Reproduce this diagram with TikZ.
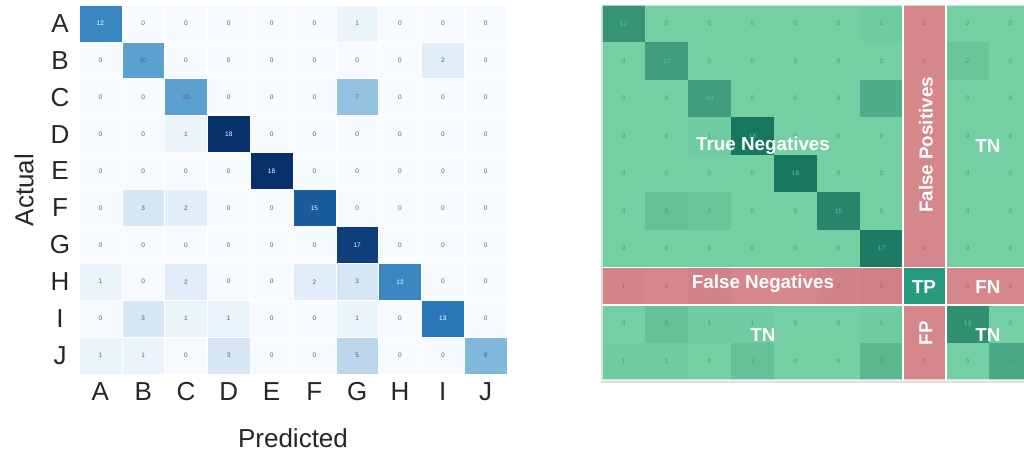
\documentclass[tikz,border=0pt]{standalone}
\usepackage{fontspec}
\setmainfont{Liberation Sans}
\usetikzlibrary{shadows}

\definecolor{bluelow}{RGB}{247,251,255}
\definecolor{blueqa}{RGB}{198,219,239}
\definecolor{bluemid}{RGB}{107,174,214}
\definecolor{blueqc}{RGB}{33,113,181}
\definecolor{bluehigh}{RGB}{8,48,107}
\definecolor{numgray}{RGB}{95,95,95}
\definecolor{mint}{RGB}{116,207,163}
\definecolor{deepteal}{RGB}{22,118,94}
\definecolor{mintnum}{RGB}{66,154,116}
\definecolor{rose}{RGB}{214,135,139}
\definecolor{deeprose}{RGB}{170,95,100}
\definecolor{rosenum}{RGB}{172,98,102}
\definecolor{tpteal}{RGB}{38,155,128}
\definecolor{tpedge}{RGB}{28,128,104}

\newcommand{\heatcolor}[1]{%
 \ifnum#1<5 \pgfmathtruncatemacro\hpct{#1/4.5*100}\colorlet{cellc}{blueqa!\hpct!bluelow}%
 \else\ifnum#1<10 \pgfmathtruncatemacro\hpct{(#1-4.5)/4.5*100}\colorlet{cellc}{bluemid!\hpct!blueqa}%
 \else\ifnum#1<14 \pgfmathtruncatemacro\hpct{(#1-9)/4.5*100}\colorlet{cellc}{blueqc!\hpct!bluemid}%
 \else \pgfmathtruncatemacro\hpct{(#1-13.5)/4.5*100}\colorlet{cellc}{bluehigh!\hpct!blueqc}\fi\fi\fi}

\def\confrows{{12,0,0,0,0,0,1,0,0,0},{0,10,0,0,0,0,0,0,2,0},{0,0,10,0,0,0,7,0,0,0},%
{0,0,1,18,0,0,0,0,0,0},{0,0,0,0,18,0,0,0,0,0},{0,3,2,0,0,15,0,0,0,0},%
{0,0,0,0,0,0,17,0,0,0},{1,0,2,0,0,2,3,12,0,0},{0,3,1,1,0,0,1,0,13,0},%
{1,1,0,3,0,0,5,0,0,8}}

\tikzset{
 lcell/.style={rectangle,minimum width=42.8pt,minimum height=36.9pt,inner sep=0pt,
   draw=white,line width=0.6pt,font=\fontsize{6.5}{7}\selectfont},
 rcell/.style={rectangle,minimum width=43pt,minimum height=37.5pt,inner sep=0pt,
   font=\fontsize{6.5}{7}\selectfont},
 axlabel/.style={text=black!85,font=\fontsize{26}{28}\selectfont},
 bigtag/.style={text=white,font=\bfseries\fontsize{18.8}{20}\selectfont},
 sepline/.style={white,line width=1.6pt}
}

\begin{document}
\begin{tikzpicture}[x=1pt,y=-1pt]
\useasboundingbox (0,0) rectangle (1024,454);

\foreach \rowvals [count=\r] in \confrows {
  \foreach \v [count=\c] in \rowvals {
    \heatcolor{\v}
    \ifnum\v>10 \def\numc{white}\else\def\numc{numgray}\fi
    \node[lcell,fill=cellc,text=\numc] (L-\r-\c) at ({79+(\c-0.5)*42.8},{5+(\r-0.5)*36.9}) {\v};
  }
}
\foreach \lab [count=\i] in {A,...,J} {
  \node[axlabel] (row-\lab) at (60,{5+(\i-0.5)*36.9}) {\lab};
  \node[axlabel] (col-\lab) at ({79+(\i-0.5)*42.8},392) {\lab};
}
\node[axlabel,rotate=90] (actual) at (24,190) {Actual};
\node[axlabel] (predicted) at (293,438) {Predicted};

\fill[mint,drop shadow={opacity=0.25,shadow xshift=-1pt,shadow yshift=-2.5pt}] (602,5) rectangle (1030,380);
\begin{scope}
\clip (602,5) rectangle (1024,380);
\foreach \rowvals [count=\r] in \confrows {
  \foreach \v [count=\c] in \rowvals {
    \pgfmathtruncatemacro\gp{\v/18*100}
    \def\numc{mintnum}\colorlet{cellc}{deepteal!\gp!mint}
    \ifnum\v>9 \def\numc{mint!85!deepteal}\fi
    \ifnum\r=8 \def\numc{rosenum}\colorlet{cellc}{deeprose!\gp!rose}\fi
    \ifnum\c=8 \def\numc{rosenum}\colorlet{cellc}{deeprose!\gp!rose}\fi
    \node[rcell,fill=cellc,text=\numc] (R-\r-\c) at ({602+(\c-0.5)*43},{5+(\r-0.5)*37.5}) {\v};
  }
}
\node[rcell,fill=tpteal,draw=tpedge,line width=1.2pt,text=tpedge] (tp-cell) at (R-8-8) {12};
\draw[sepline] (903,5) -- (903,380);
\draw[sepline] (946,5) -- (946,380);
\draw[sepline] (602,267.5) -- (1030,267.5);
\draw[sepline] (602,305) -- (1030,305);
\draw[white,opacity=0.6,line width=1.5pt] (602,5) rectangle (1030,380);
\end{scope}

\node[bigtag] (tn-main) at (763,146) {True Negatives};
\node[bigtag,rotate=90] (fp-band) at (926,145) {False Positives};
\node[bigtag] (tn-right) at (988,146) {TN};
\node[bigtag] (fn-band) at (763,284) {False Negatives};
\node[bigtag] (tp-tag) at (924,287) {TP};
\node[bigtag] (fn-tag) at (988,287) {FN};
\node[bigtag] (tn-low) at (763,335) {TN};
\node[bigtag,rotate=90] (fp-tag) at (926,333) {FP};
\node[bigtag] (tn-corner) at (988,335) {TN};
\end{tikzpicture}
\end{document}
